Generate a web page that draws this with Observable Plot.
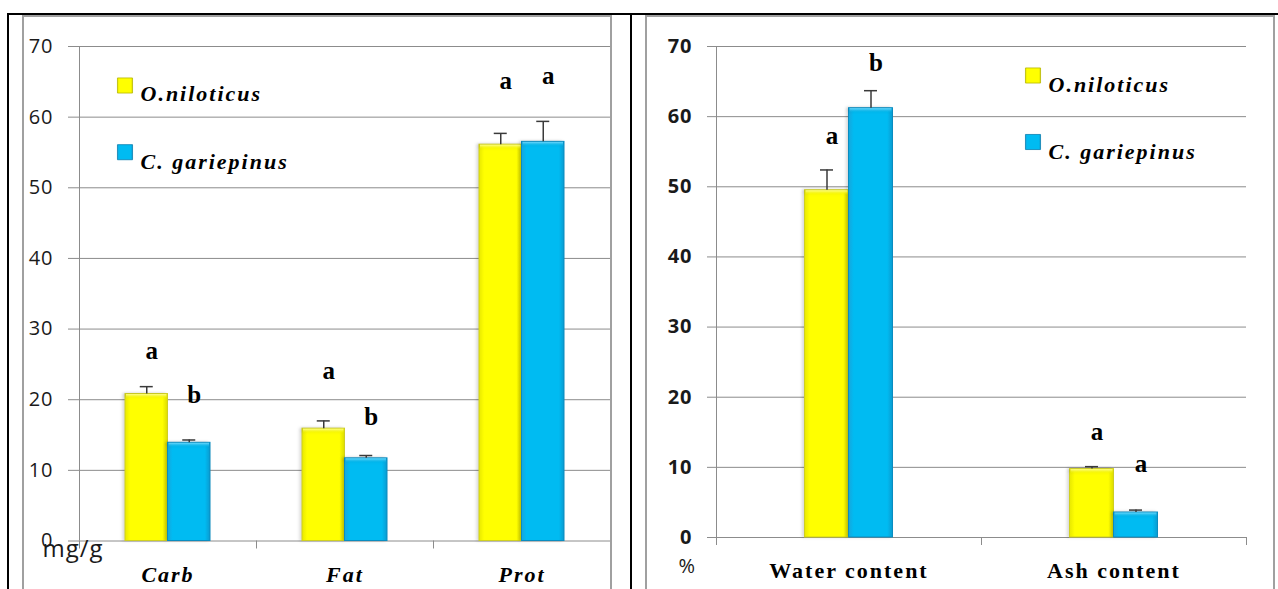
<!DOCTYPE html>
<html><head><meta charset="utf-8">
<script src="https://cdn.jsdelivr.net/npm/d3@7"></script>
<script src="https://cdn.jsdelivr.net/npm/@observablehq/plot@0.6"></script>
<style>
body{margin:0;background:#fff;}
#wrap{position:relative;width:1278px;height:589px;overflow:hidden;background:#fff;}
.blk{position:absolute;background:#000;}
.gframe{position:absolute;border:2px solid #a0a0a0;border-bottom:none;height:600px;box-sizing:border-box;pointer-events:none;}
</style></head><body><div id="wrap"></div>
<script>
// ---------- data ----------
const speciesNames = ["O.niloticus", "C. gariepinus"];
const yTicks = [0, 10, 20, 30, 40, 50, 60, 70];

// left panel (mg/g)
const nutrientCats = ["Carb", "Fat", "Prot"];
const nutrientO = [20.8, 15.9, 56.1];
const nutrientOErr = [1.05, 1.1, 1.6];
const nutrientC = [13.9, 11.7, 56.5];
const nutrientCErr = [0.4, 0.4, 2.9];
const nutrientOLetter = ["a", "a", "a"];
const nutrientCLetter = ["b", "b", "a"];
const nutrientOLetterAt = [26.9, 24.1, 65.1];
const nutrientCLetterAt = [20.6, 17.5, 65.8];

// right panel (%)
const contentCats = ["Water content", "Ash content"];
const contentO = [49.5, 9.75];
const contentOErr = [2.9, 0.35];
const contentC = [61.2, 3.56];
const contentCErr = [2.5, 0.35];
const contentOLetter = ["a", "a"];
const contentCLetter = ["b", "a"];
const contentOLetterAt = [57.3, 15.0];
const contentCLetterAt = [67.7, 10.5];

// ---------- drawing ----------
const GRAY = "#8c8c8c";
const SERIF = "Liberation Serif, Times New Roman, Times, DejaVu Serif, serif";
const LETTERF = "Liberation Serif, Times, DejaVu Serif, serif";
const SANS = "Open Sans, Liberation Sans, sans-serif";
const wrap = document.getElementById("wrap");

function makeChart(cfg) {
  const n = cfg.cats.length;
  const rows = [];
  cfg.cats.forEach((c, i) => {
    rows.push({i, s: 0, v: cfg.o[i], e: cfg.oErr[i], l: cfg.oLet[i], la: cfg.oLetAt[i]});
    rows.push({i, s: 1, v: cfg.c[i], e: cfg.cErr[i], l: cfg.cLet[i], la: cfg.cLetAt[i]});
  });
  const plotW = cfg.width - cfg.ml - cfg.mr;
  const band = plotW / n;
  const bw = cfg.barPx / band;
  const cap = cfg.capPx / band;
  const pxPerUnit = (cfg.height - cfg.mt - cfg.mb) / 70;
  const bevel = 5 / pxPerUnit;
  const cx = r => r.i + 0.5 + (r.s === 0 ? -bw / 2 : bw / 2);
  const yel = rows.filter(r => r.s === 0), blu = rows.filter(r => r.s === 1);
  const idY = cfg.id + "-gy", idB = cfg.id + "-gb", idYT = cfg.id + "-gyt", idBT = cfg.id + "-gbt";

  const legendMarks = [];
  speciesNames.forEach((name, k) => {
    legendMarks.push(Plot.dot([name], {frameAnchor: "top-left", dx: cfg.leg.sqDx, dy: cfg.leg.sqDy[k],
      symbol: "square", r: 8.5, fill: k === 0 ? `url(#${idY})` : `url(#${idB})`,
      stroke: k === 0 ? "#b8b800" : "#0a7fb0", strokeWidth: 0.8}));
    legendMarks.push(Plot.text([name], {frameAnchor: "top-left", dx: cfg.leg.txDx, dy: cfg.leg.txDy[k],
      text: d => d, textAnchor: "start", fontFamily: SERIF, fontStyle: "italic", fontWeight: "bold",
      fontSize: 22, fill: "#000"}));
  });

  const barX1 = r => cx(r) - bw / 2, barX2 = r => cx(r) + bw / 2;
  const svg = Plot.plot({
    width: cfg.width, height: cfg.height,
    marginLeft: cfg.ml, marginRight: cfg.mr, marginTop: cfg.mt, marginBottom: cfg.mb,
    x: {type: "linear", domain: [0, n], label: null},
    y: {domain: [0, 70], label: null},
    style: {background: "transparent", overflow: "visible"},
    marks: [
      Plot.gridY(yTicks, {stroke: GRAY, strokeOpacity: 1, strokeWidth: 1}),
      Plot.axisY(yTicks, {tickSize: cfg.tickSize, tickPadding: 15, stroke: GRAY, fill: "#1a1a1a",
        fontSize: 20, fontFamily: SANS, fontWeight: cfg.yBold ? "bold" : "normal", label: null}),
      Plot.ruleX([0], {stroke: GRAY}),
      Plot.axisX(d3.range(n + 1), {tickSize: 8, tickFormat: () => "", stroke: GRAY, label: null}),
      Plot.axisX(d3.range(n).map(i => i + 0.5), {tickSize: 0, tickPadding: 25,
        tickFormat: d => cfg.cats[Math.floor(d)], fontSize: 22, fontFamily: SERIF, fontWeight: "bold",
        fontStyle: cfg.italic ? "italic" : "normal", fill: "#000", label: null}),
      Plot.rectY(yel, {x1: barX1, x2: barX2, y1: 0, y2: "v",
        fill: `url(#${idY})`, stroke: "#cfcf20", strokeWidth: 1}),
      Plot.rectY(blu, {x1: barX1, x2: barX2, y1: 0, y2: "v",
        fill: `url(#${idB})`, stroke: "#0a8cc0", strokeWidth: 1}),
      Plot.rectY(yel, {x1: barX1, x2: barX2, y1: r => r.v - bevel, y2: "v", insetLeft: 1, insetRight: 1, insetTop: 0.5,
        fill: `url(#${idYT})`}),
      Plot.rectY(blu, {x1: barX1, x2: barX2, y1: r => r.v - bevel, y2: "v", insetLeft: 1, insetRight: 1, insetTop: 0.5,
        fill: `url(#${idBT})`}),
      Plot.ruleX(rows, {x: cx, y1: "v", y2: r => r.v + r.e, stroke: "#3a3a3a", strokeWidth: 1.5}),
      Plot.ruleY(rows, {y: r => r.v + r.e, x1: r => cx(r) - cap, x2: r => cx(r) + cap, stroke: "#3a3a3a", strokeWidth: 1.5}),
      Plot.text(rows, {x: cx, y: "la", text: "l", dx: 5, fontSize: 25, fontWeight: "bold",
        fontFamily: LETTERF, fill: "#000"}),
      Plot.text([cfg.unit], {frameAnchor: "bottom-left", dx: cfg.unitDx, dy: cfg.unitDy, text: d => d,
        textAnchor: "start", fontFamily: SANS, fontSize: cfg.unitSize, fill: "#1a1a1a"}),
      ...legendMarks
    ]
  });

  const s = d3.select(svg);
  const defs = s.insert("defs", ":first-child");
  function grad(id, vertical, stops) {
    const g = defs.append("linearGradient").attr("id", id).attr("x1", 0).attr("y1", 0)
      .attr("x2", vertical ? 0 : 1).attr("y2", vertical ? 1 : 0);
    stops.forEach(([o, c, a]) => g.append("stop").attr("offset", o).attr("stop-color", c).attr("stop-opacity", a ?? 1));
  }
  grad(idY, false, [[0, "#e8e800"], [0.12, "#ffff00"], [0.88, "#ffff00"], [1, "#dcdc00"]]);
  grad(idB, false, [[0, "#16a6dc"], [0.12, "#00bbf2"], [0.88, "#00bbf2"], [1, "#0a9bd0"]]);
  grad(idYT, true, [[0, "#ffffa0", 0.9], [1, "#ffff00", 0]]);
  grad(idBT, true, [[0, "#7ddcff", 0.9], [1, "#00bbf2", 0]]);
  s.selectAll("[font-family]").each(function () {
    const f = this.getAttribute("font-family");
    if (f === SERIF) this.setAttribute("letter-spacing", "2px");
    else if (f === SANS) this.setAttribute("letter-spacing", "1px");
  });
  s.selectAll('g[aria-label="rect"]').style("filter", "drop-shadow(-2px 0px 1.5px rgba(0,0,0,0.15))");

  svg.style.position = "absolute";
  svg.style.left = cfg.left + "px";
  svg.style.top = "0px";
  return svg;
}

wrap.appendChild(makeChart({
  id: "L", left: 0, width: 640, height: 589, ml: 79, mr: 30, mt: 46, mb: 48.5,
  cats: nutrientCats, o: nutrientO, oErr: nutrientOErr, c: nutrientC, cErr: nutrientCErr,
  oLet: nutrientOLetter, cLet: nutrientCLetter, oLetAt: nutrientOLetterAt, cLetAt: nutrientCLetterAt,
  barPx: 42.5, capPx: 6.5, tickSize: 11, yBold: false, italic: true,
  unit: "mg/g", unitDx: -37, unitDy: 15.5, unitSize: 24,
  leg: {sqDx: 45.5, sqDy: [39, 105.7], txDx: 61, txDy: [39.3, 106.5]}
}));
wrap.appendChild(makeChart({
  id: "R", left: 640, width: 638, height: 589, ml: 76, mr: 32, mt: 46, mb: 52,
  cats: contentCats, o: contentO, oErr: contentOErr, c: contentC, cErr: contentCErr,
  oLet: contentOLetter, cLet: contentCLetter, oLetAt: contentOLetterAt, cLetAt: contentCLetterAt,
  barPx: 44, capPx: 6.5, tickSize: 9, yBold: true, italic: false,
  unit: "%", unitDx: -38, unitDy: 35, unitSize: 20,
  leg: {sqDx: 316.5, sqDy: [29, 95.5], txDx: 332, txDy: [30.3, 97]}
}));

// table-like frame decorations
function div(cls, css) { const d = document.createElement("div"); d.className = cls; Object.assign(d.style, css); wrap.appendChild(d); }
div("gframe", {left: "22px", top: "15px", width: "590px"});
div("gframe", {left: "645px", top: "15px", width: "630px"});
div("blk", {left: "7px", top: "13px", width: "1271px", height: "2px"});
div("blk", {left: "7px", top: "13px", width: "2px", height: "580px"});
div("blk", {left: "630px", top: "13px", width: "2px", height: "580px"});
</script>
</body></html>
